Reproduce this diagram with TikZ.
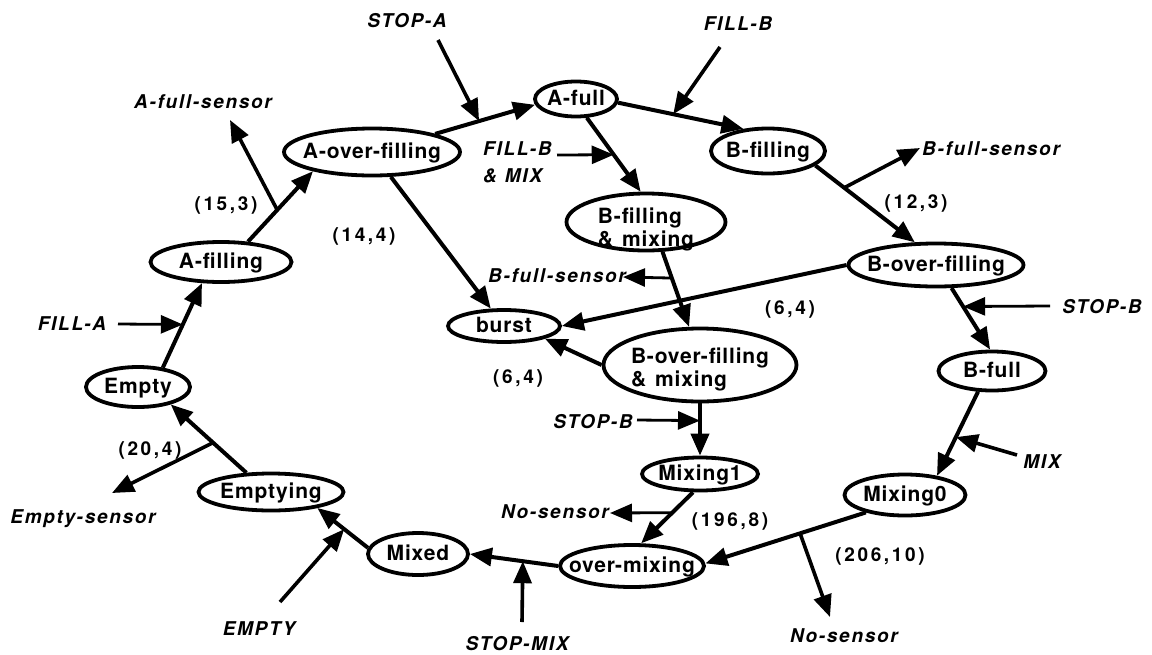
\documentclass[tikz,border=0pt]{standalone}
\usepackage{fontspec}
\setmainfont{TeX Gyre Heros}
\newfontfamily\statefont{TeX Gyre Heros}[LetterSpace=4]
\newfontfamily\signalfont{TeX Gyre Heros}[LetterSpace=9]
\newfontfamily\countfont{TeX Gyre Heros}[LetterSpace=14]
\usetikzlibrary{shapes.geometric,arrows.meta}
% zero-width text so the ellipse keeps its given size
\newcommand\zw[1]{\makebox[0pt]{#1}}
\newcommand\twoline[2]{\makebox[0pt]{\begin{tabular}[t]{@{}l@{}}#1\\#2\end{tabular}}}
\begin{document}
\begin{tikzpicture}[x=1pt,y=-1pt,
  >={Triangle[length=22pt,width=18pt]},
  stnode/.style={ellipse, draw, line width=3.8pt, inner sep=0pt,
    text height=14pt, text depth=2pt,
    font=\statefont\bfseries\fontsize{21}{23}\selectfont},
  trans/.style={line width=4pt, ->},
  sig/.style={line width=3.6pt, ->},
  sigthin/.style={line width=2.8pt, ->},
  lab/.style={font=\signalfont\bfseries\itshape\fontsize{19}{27}\selectfont, inner sep=0pt},
  cnt/.style={font=\countfont\bfseries\fontsize{19}{23}\selectfont, inner sep=0pt}]
\useasboundingbox (0,0) rectangle (1152,654);

% states
\node[stnode, minimum width=141pt, minimum height=40pt] (Afill) at (221,262) {\zw{A-filling}};
\node[stnode, minimum width=176pt, minimum height=47pt] (Aof) at (372,152) {\zw{A-over-filling}};
\node[stnode, minimum width=82pt, minimum height=35pt] (Afull) at (576,99) {\zw{A-full}};
\node[stnode, minimum width=114pt, minimum height=45pt] (Bfill) at (768,151) {\zw{B-filling}};
\node[stnode, minimum width=159pt, minimum height=57pt, text height=13pt, text depth=11pt] (Bfm) at (646,222) {\twoline{B-filling}{\&\hspace{9pt}mixing}};
\node[stnode, minimum width=175pt, minimum height=43pt] (Bof) at (936,265) {\zw{B-over-filling}};
\node[stnode, minimum width=112pt, minimum height=32pt] (burst) at (504,326) {\zw{burst}};
\node[stnode, minimum width=193pt, minimum height=73pt, text height=10pt, text depth=14pt] (Bofm) at (700,365) {\twoline{B-over-filling}{\&\hspace{9pt}mixing}};
\node[stnode, minimum width=107pt, minimum height=39pt] (Bfull) at (992,371) {\zw{B-full}};
\node[stnode, minimum width=116pt, minimum height=33pt] (Mix1) at (700,474) {\zw{Mixing1}};
\node[stnode, minimum width=121pt, minimum height=41pt] (Mix0) at (905,495) {\zw{Mixing0}};
\node[stnode, minimum width=144pt, minimum height=42pt] (Over) at (632,566) {\zw{over-mixing}};
\node[stnode, minimum width=100pt, minimum height=42pt] (Mixed) at (418,554) {\zw{Mixed}};
\node[stnode, minimum width=145pt, minimum height=37pt] (Empt) at (271,492) {\zw{Emptying}};
\node[stnode, minimum width=104pt, minimum height=40pt] (Empty) at (138,387) {\zw{Empty}};

% transitions, with the points where signals meet them
\draw[trans] (Empty.38) -- coordinate[pos=.51] (jFA) (Afill.228);
\draw[trans] (Afill.37) -- coordinate[pos=.45] (jAfs) (Aof.198);
\draw[trans] (Aof.16) -- coordinate[pos=.44] (jSA) (Afull.188);
\draw[trans] (Afull.-5) -- coordinate[pos=.44] (jFB) (Bfill.138);
\draw[trans] (Afull.-60) -- coordinate[pos=.5] (jFBM) (Bfm.100);
\draw[trans] (Bfill.-17) -- coordinate[pos=.29] (jBfs) (Bof.133);
\draw[trans] (Bof.-56) -- coordinate[pos=.3] (jSB) (Bfull.95);
\draw[trans] (Bfull.236) -- coordinate[pos=.54] (jMIX) (Mix0.31);
\draw[trans] (Mix0.204) -- coordinate[pos=.41] (jNS) (Over.2);
\draw[trans] (Bfm.-61) -- coordinate[pos=.35] (jBfs2) (Bofm.106);
\draw[trans] (Bofm.south) -- coordinate[pos=.33] (jSB2) (Mix1.north);
\draw[trans] (Mix1.-111) -- coordinate[pos=.4] (jNS2) (Over.68);
\draw[trans] (Over.west) -- coordinate[pos=.4] (jSM) (Mixed.east);
\draw[trans] (Mixed.173) -- coordinate[pos=.47] (jEM) (Empt.-19);
\draw[trans] (Empt.142) -- coordinate[pos=.44] (jES) (Empty.-28);
\draw[trans] (Aof) -- (burst);
\draw[trans] (Bof.west) -- (burst.east);
\draw[trans] (Bofm.west) -- (burst.south east);

% signal labels
\node[lab, anchor=base] (tAfs) at (203,108) {A-full-sensor};
\node[lab, anchor=base] (tStopA) at (407,27) {STOP-A};
\node[lab, anchor=base] (tFillB) at (738,30) {FILL-B};
\node[lab, anchor=base west] (tFBM) at (483,155) {\begin{tabular}[t]{@{}l@{}}FILL-B\\\&\hspace{8pt}MIX\end{tabular}};
\node[lab, anchor=base west] (tBfs) at (922,155) {B-full-sensor};
\node[lab, anchor=base] (tBfs2) at (557,282) {B-full-sensor};
\node[lab, anchor=base] (tStopB) at (1102,313) {STOP-B};
\node[lab, anchor=base] (tStopB2) at (593,428) {STOP-B};
\node[lab, anchor=base] (tMix) at (1042,468) {MIX};
\node[lab, anchor=base] (tNS2) at (555,518) {No-sensor};
\node[lab, anchor=base] (tNS) at (844,642) {No-sensor};
\node[lab, anchor=base] (tStopMix) at (517,650) {STOP-MIX};
\node[lab, anchor=base] (tEmpty) at (259,635) {EMPTY};
\node[lab, anchor=base] (tES) at (83,523) {Empty-sensor};
\node[lab, anchor=base] (tFillA) at (72,330) {FILL-A};

% timing pairs
\node[cnt, anchor=base] (n153) at (226,210) {(15,3)};
\node[cnt, anchor=base] (n144) at (364,241) {(14,4)};
\node[cnt, anchor=base] (n123) at (916,208) {(12,3)};
\node[cnt, anchor=base] (n64r) at (790,314) {(6,4)};
\node[cnt, anchor=base] (n64l) at (518,383) {(6,4)};
\node[cnt, anchor=base] (n1968) at (730,526) {(196,8)};
\node[cnt, anchor=base] (n20610) at (880,561) {(206,10)};
\node[cnt, anchor=base] (n204) at (150,455) {(20,4)};

% free ends of the signal arrows
\coordinate (sStopA) at (438,40);
\coordinate (sFillB) at (720,47);
\coordinate (sFBM) at (557,155);
\coordinate (eAfs) at (230,120);
\coordinate (eBfs) at (920,148);
\coordinate (eBfs2) at (623,277);
\coordinate (sStopB) at (1050,306);
\coordinate (sStopB2) at (637,420);
\coordinate (sMix) at (1017,455);
\coordinate (eNS) at (830,617);
\coordinate (eNS2) at (610,513);
\coordinate (sStopMix) at (522,622);
\coordinate (sEmpty) at (280,602);
\coordinate (eES) at (112,493);
\coordinate (sFillA) at (118,324);

% input signals
\draw[sig] (sStopA) -- (jSA);
\draw[sig] (sFillB) -- (jFB);
\draw[sigthin] (sFBM) -- (jFBM);
\draw[sigthin] (sStopB) -- (jSB);
\draw[sigthin] (sStopB2) -- (jSB2);
\draw[sig] (sMix) -- (jMIX);
\draw[sig] (sStopMix) -- (jSM);
\draw[sig] (sEmpty) -- (jEM);
\draw[sigthin] (sFillA) -- (jFA);
% output signals
\draw[sig] (jAfs) -- (eAfs);
\draw[sig] (jBfs) -- (eBfs);
\draw[sigthin] (jBfs2) -- (eBfs2);
\draw[sig] (jNS) -- (eNS);
\draw[sigthin] (jNS2) -- (eNS2);
\draw[sig] (jES) -- (eES);
\end{tikzpicture}
\end{document}
